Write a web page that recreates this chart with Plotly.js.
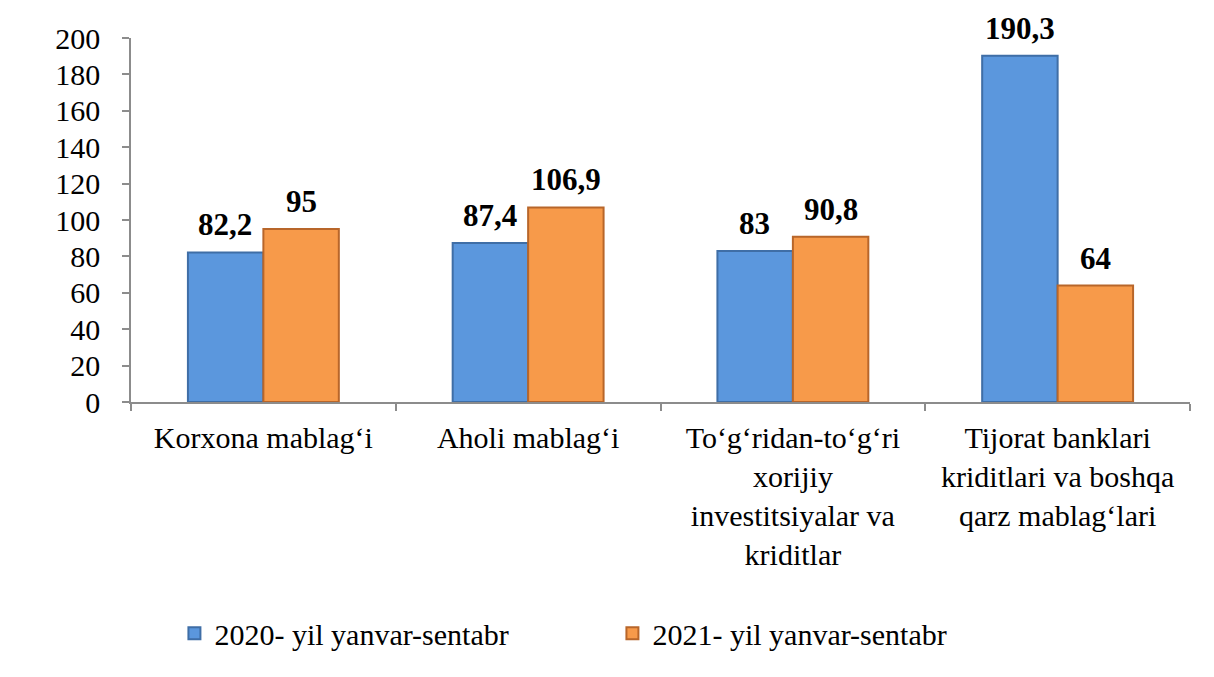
<!DOCTYPE html>
<html>
<head>
<meta charset="utf-8">
<script src="https://cdn.plot.ly/plotly-3.0.1.min.js"></script>
<style>
html,body{margin:0;padding:0;background:#fff;}
#chart text{font-family:'Liberation Serif','Times New Roman',serif !important;}
</style>
</head>
<body>
<div id="chart" style="width:1214px;height:677px"></div>
<script>
const categories = [
  "Korxona mablag‘i",
  "Aholi mablag‘i",
  "To‘g‘ridan-to‘g‘ri<br>xorijiy<br>investitsiyalar va<br>kriditlar",
  "Tijorat banklari<br>kriditlari va boshqa<br>qarz mablag‘lari"
];
const series2020Name = "2020- yil yanvar-sentabr";
const series2021Name = "2021- yil yanvar-sentabr";
const values2020 = [82.2, 87.4, 83, 190.3];
const values2021 = [95, 106.9, 90.8, 64];
const yTicks = [0, 20, 40, 60, 80, 100, 120, 140, 160, 180, 200];

const fmt = v => '<b>' + String(v).replace('.', ',') + '</b>';
const fam = "Liberation Serif";

const traces = [
  {
    type: 'bar', name: series2020Name, x: categories, y: values2020,
    marker: {color: '#5B97DD', line: {color: '#3F6EA6', width: 2}},
    hoverinfo: 'none'
  },
  {
    type: 'bar', name: series2021Name, x: categories, y: values2021,
    marker: {color: '#F79A4A', line: {color: '#B8662A', width: 2}},
    hoverinfo: 'none'
  }
];

const labelFont = {family: fam, size: 31, color: 'black'};
const annotations = [];
values2020.forEach((v, i) => annotations.push({
  x: categories[i], y: v, text: fmt(v), showarrow: false,
  xanchor: 'center', yanchor: 'bottom', xshift: -38, yshift: 8, font: labelFont
}));
values2021.forEach((v, i) => annotations.push({
  x: categories[i], y: v, text: fmt(v), showarrow: false,
  xanchor: 'center', yanchor: 'bottom', xshift: 38, yshift: 8, font: labelFont
}));

const layout = {
  width: 1214, height: 677,
  margin: {l: 131, r: 24, t: 38, b: 275},
  paper_bgcolor: 'white', plot_bgcolor: 'white',
  barmode: 'group', bargap: 0.43, bargroupgap: 0,
  font: {family: fam, size: 30, color: 'black'},
  showlegend: true,
  legend: {
    orientation: 'h', x: 0.041, xanchor: 'left', y: -0.635, yanchor: 'middle',
    font: {family: fam, size: 30, color: 'black'},
    entrywidth: 393
  },
  annotations: annotations,
  xaxis: {
    type: 'category', showgrid: false, zeroline: false,
    showline: true, linecolor: '#8C8C8C', linewidth: 1.5,
    ticks: 'outside', tickson: 'boundaries', ticklen: 7, tickcolor: '#8C8C8C', tickwidth: 1.5,
    tickfont: {family: fam, size: 30, color: 'black'}, tickangle: 0, ticklabelstandoff: 8
  },
  yaxis: {
    range: [0, 200], tickvals: yTicks, showgrid: false, zeroline: false,
    showline: true, linecolor: '#8C8C8C', linewidth: 1.5,
    ticks: 'outside', ticklen: 7, tickcolor: '#8C8C8C', tickwidth: 1.5,
    tickfont: {family: fam, size: 30, color: 'black'}, ticklabelstandoff: 16
  }
};

Plotly.newPlot('chart', traces, layout, {displayModeBar: false});
</script>
</body>
</html>
